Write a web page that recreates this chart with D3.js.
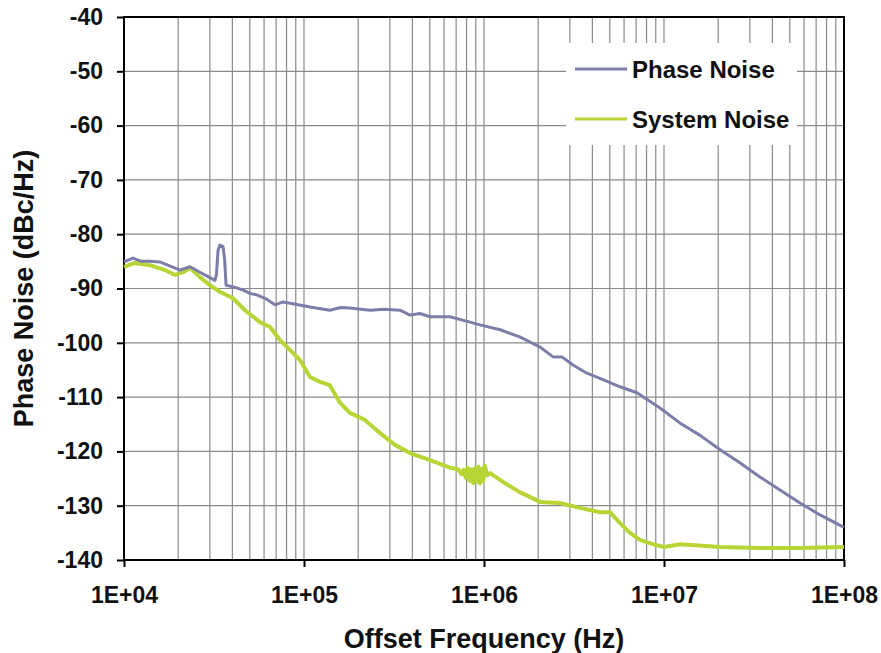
<!DOCTYPE html>
<html>
<head>
<meta charset="utf-8">
<script src="https://cdn.jsdelivr.net/npm/d3@7"></script>
<style>
  body { margin: 0; background: #fff; }
  text { font-family: Arial, "Liberation Sans", sans-serif; font-weight: bold; fill: #111; }
</style>
</head>
<body>
<svg id="chart" width="881" height="653"></svg>
<script>
// values
const phaseFreq = [1.0e4, 1.12e4, 1.25e4, 1.39e4, 1.58e4, 1.85e4, 2.05e4, 2.33e4, 2.64e4, 3.0e4, 3.2e4,
  3.26e4, 3.33e4, 3.41e4, 3.55e4, 3.62e4, 3.69e4, 4.14e4, 4.6e4, 5.0e4, 5.5e4, 6.07e4, 6.9e4, 7.6e4, 8.36e4,
  1.08e5, 1.39e5, 1.6e5, 1.8e5, 2.33e5, 2.8e5, 3.41e5, 3.88e5, 4.4e5, 5.01e5, 6.47e5, 8.36e5, 9.5e5,
  1.23e6, 1.58e6, 2.05e6, 2.42e6, 2.71e6, 3.12e6, 3.73e6, 4.58e6, 5.7e6, 7.08e6, 9.5e6,
  1.23e7, 1.58e7, 2.05e7, 2.64e7, 3.41e7, 4.41e7, 5.7e7, 7.36e7, 1.0e8];
const phaseNoise = [-85.1, -84.4, -85.0, -85.0, -85.1, -86.0, -86.6, -86.0, -87.0, -88.0, -88.5,
  -87.5, -83.0, -82.0, -82.3, -84.5, -89.4, -89.8, -90.3, -90.9, -91.2, -91.8, -93.0, -92.5, -92.7,
  -93.4, -94.0, -93.5, -93.6, -94.0, -93.8, -94.0, -94.9, -94.6, -95.2, -95.2, -96.2, -96.7,
  -97.6, -98.9, -100.8, -102.6, -102.6, -104.1, -105.6, -106.8, -108.1, -109.2, -112.0,
  -114.8, -117.0, -119.7, -122.1, -124.7, -127.1, -129.5, -131.7, -134.0];

const sysFreq = [1.0e4, 1.15e4, 1.39e4, 1.69e4, 1.92e4, 2.13e4, 2.33e4, 2.64e4, 3.0e4, 3.41e4, 4.03e4,
  4.7e4, 5.7e4, 6.47e4, 7.36e4, 8.36e4, 9.5e4, 1.08e5, 1.23e5, 1.39e5, 1.58e5, 1.8e5, 2.18e5, 2.64e5,
  3.2e5, 3.88e5, 5.01e5, 6.47e5, 7.2e5, 7.5e5, 7.7e5, 7.9e5, 8.1e5, 8.3e5, 8.5e5, 8.7e5, 8.9e5,
  9.1e5, 9.3e5, 9.5e5, 9.7e5, 9.9e5, 1.01e6, 1.04e6, 1.08e6, 1.3e6,
  1.58e6, 2.05e6, 2.64e6, 3.41e6, 4.41e6, 5.01e6, 5.7e6, 6.47e6, 7.36e6, 8.9e6, 1.0e7, 1.23e7,
  2.05e7, 3.41e7, 5.7e7, 1.0e8];
const sysNoise = [-86.0, -85.3, -85.7, -86.6, -87.5, -87.0, -86.2, -87.9, -89.4, -90.6, -91.8,
  -94.0, -96.2, -97.1, -99.5, -101.3, -103.2, -106.3, -107.2, -107.8, -111.0, -112.9, -114.2, -116.6,
  -118.8, -120.3, -121.6, -123.0, -123.3, -124.2, -123.4, -124.8, -123.0, -125.4, -123.3, -125.8, -123.1,
  -125.6, -122.8, -125.9, -123.2, -125.5, -122.6, -124.4, -124.0, -125.8,
  -127.5, -129.3, -129.5, -130.4, -131.2, -131.2, -133.2, -135.0, -136.3, -137.2, -137.6, -137.1,
  -137.6, -137.8, -137.8, -137.6];

const yTicks = [-40, -50, -60, -70, -80, -90, -100, -110, -120, -130, -140];
const xTicks = [1e4, 1e5, 1e6, 1e7, 1e8];
const xTickLabels = ['1E+04', '1E+05', '1E+06', '1E+07', '1E+08'];
const seriesNames = ['Phase Noise', 'System Noise'];
const seriesColors = ['#7d7da9', '#b7d535'];

const svg = d3.select('#chart');
const pLeft = 124, pRight = 844, pTop = 17, pBottom = 560;

const x = d3.scaleLog().domain([1e4, 1e8]).range([pLeft, pRight]);
const y = d3.scaleLinear().domain([-140, -40]).range([pBottom, pTop]);

// grid
const minor = [];
for (let d = 1e4; d < 1e8; d *= 10) {
  for (let m = 1; m < 10; m++) minor.push(d * m);
}
svg.append('g').selectAll('line')
  .data(minor.filter(v => v > 1e4))
  .enter().append('line')
  .attr('x1', d => x(d)).attr('x2', d => x(d))
  .attr('y1', pTop).attr('y2', pBottom)
  .attr('stroke', '#8a8a8a').attr('stroke-width', 1.2);

svg.append('g').selectAll('line')
  .data(yTicks.slice(1, -1))
  .enter().append('line')
  .attr('x1', pLeft).attr('x2', pRight)
  .attr('y1', d => y(d)).attr('y2', d => y(d))
  .attr('stroke', '#8a8a8a').attr('stroke-width', 1.2);

// legend box hides the grid behind it
svg.append('rect')
  .attr('x', 566).attr('y', 43).attr('width', 231).attr('height', 102)
  .attr('fill', '#fff');

// axes
const yAxis = d3.axisLeft(y).tickValues(yTicks).tickSize(7).tickPadding(14)
  .tickFormat(d => String(d));
const gy = svg.append('g').attr('transform', `translate(${pLeft},0)`).call(yAxis);
gy.select('.domain').remove();
gy.selectAll('line').attr('stroke', '#000').attr('stroke-width', 2);
gy.selectAll('text').attr('font-size', 23).attr('fill', '#111')
  .style('font-family', 'Arial, "Liberation Sans", sans-serif').style('font-weight', 'bold');

const xAxis = d3.axisBottom(x).tickValues(xTicks).tickSize(7).tickPadding(20)
  .tickFormat((d, i) => xTickLabels[i]);
const gx = svg.append('g').attr('transform', `translate(0,${pBottom})`).call(xAxis);
gx.select('.domain').remove();
gx.selectAll('line').attr('stroke', '#000').attr('stroke-width', 2);
gx.selectAll('text').attr('font-size', 23).attr('fill', '#111')
  .style('font-family', 'Arial, "Liberation Sans", sans-serif').style('font-weight', 'bold');

// frame
svg.append('rect')
  .attr('x', pLeft).attr('y', pTop).attr('width', pRight - pLeft).attr('height', pBottom - pTop)
  .attr('fill', 'none').attr('stroke', '#000').attr('stroke-width', 2);

// series
const line = d3.line().x(d => x(d[0])).y(d => y(d[1]));
const series = [
  d3.zip(phaseFreq, phaseNoise),
  d3.zip(sysFreq, sysNoise)
];
// system noise drawn under phase noise
[1, 0].forEach(i => {
  svg.append('path')
    .datum(series[i])
    .attr('d', line)
    .attr('fill', 'none')
    .attr('stroke', seriesColors[i])
    .attr('stroke-width', i === 0 ? 3 : 4)
    .attr('stroke-linejoin', 'round');
});

// legend
seriesNames.forEach((name, i) => {
  const ly = 69 + i * 50;
  svg.append('line')
    .attr('x1', 575).attr('x2', 627).attr('y1', ly).attr('y2', ly)
    .attr('stroke', seriesColors[i]).attr('stroke-width', 3);
  svg.append('text')
    .attr('x', 632).attr('y', ly).attr('dy', '0.36em')
    .attr('font-size', 24)
    .text(name);
});

// axis titles
svg.append('text')
  .attr('x', (pLeft + pRight) / 2).attr('y', 648)
  .attr('text-anchor', 'middle').attr('font-size', 27)
  .text('Offset Frequency (Hz)');

svg.append('text')
  .attr('transform', `translate(33,${(pTop + pBottom) / 2}) rotate(-90)`)
  .attr('text-anchor', 'middle').attr('font-size', 27)
  .text('Phase Noise (dBc/Hz)');
</script>
</body>
</html>
